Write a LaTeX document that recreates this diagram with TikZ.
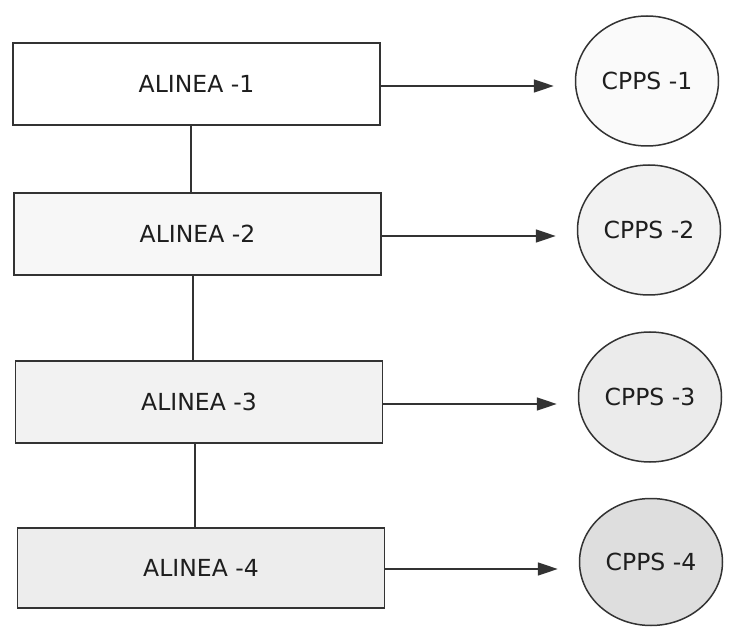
\documentclass[tikz,border=0pt]{standalone}
\usepackage{fontspec}
\setmainfont{DejaVu Sans}
\usetikzlibrary{shapes.geometric,arrows.meta}
\definecolor{ink}{HTML}{333333}
\definecolor{txt}{HTML}{1E1E1E}
\tikzset{
  alinea/.style={draw=ink, line width=1.6pt, minimum width=367pt, minimum height=82pt,
    inner sep=0pt, text=txt, font=\fontsize{23.5}{28}\selectfont},
  cpps/.style={ellipse, draw=ink, line width=1.5pt, minimum width=143pt, minimum height=130pt,
    inner sep=0pt, text=txt, font=\fontsize{23.5}{28}\selectfont},
  spine/.style={draw=ink, line width=1.6pt},
  feed/.style={draw=ink, line width=1.6pt, shorten >=21pt,
    -{Triangle[length=20pt,width=13pt]}}
}
\begin{document}
\begin{tikzpicture}[x=1pt,y=-1pt]
  \useasboundingbox (0,0) rectangle (737,639);
  \fill[white] (0,0) rectangle (737,639);

  % left column: the four alineas
  \node[alinea, fill=white]          (a1) at (196.5,84)  {ALINEA -1};
  \node[alinea, fill=black!3]        (a2) at (197.5,234) {ALINEA -2};
  \node[alinea, fill=black!5]        (a3) at (199,402)   {ALINEA -3};
  \node[alinea, fill=black!7, minimum height=80pt] (a4) at (201,568) {ALINEA -4};

  % right column: the matching CPPS circles
  \node[cpps, fill=black!2]  (c1) at (647,81)  {CPPS -1};
  \node[cpps, fill=black!5]  (c2) at (649,230) {CPPS -2};
  \node[cpps, fill=black!8]  (c3) at (650,397) {CPPS -3};
  \node[cpps, fill=black!13, minimum height=127pt] (c4) at (651,562) {CPPS -4};

  % vertical links between consecutive alineas
  \draw[spine] ([xshift=-5.5pt]a1.south) -- ([xshift=-5.5pt]a1.south |- a2.north);
  \draw[spine] ([xshift=-4.5pt]a2.south) -- ([xshift=-4.5pt]a2.south |- a3.north);
  \draw[spine] ([xshift=-4pt]a3.south) -- ([xshift=-4pt]a3.south |- a4.north);

  % arrows from each alinea to its CPPS
  \draw[feed] ([yshift=-2pt]a1.east) -- ([yshift=-2pt]a1.east -| c1.west);
  \draw[feed] ([yshift=-2pt]a2.east) -- ([yshift=-2pt]a2.east -| c2.west);
  \draw[feed] ([yshift=-2pt]a3.east) -- ([yshift=-2pt]a3.east -| c3.west);
  \draw[feed] ([yshift=-1pt]a4.east) -- ([yshift=-1pt]a4.east -| c4.west);
\end{tikzpicture}
\end{document}
